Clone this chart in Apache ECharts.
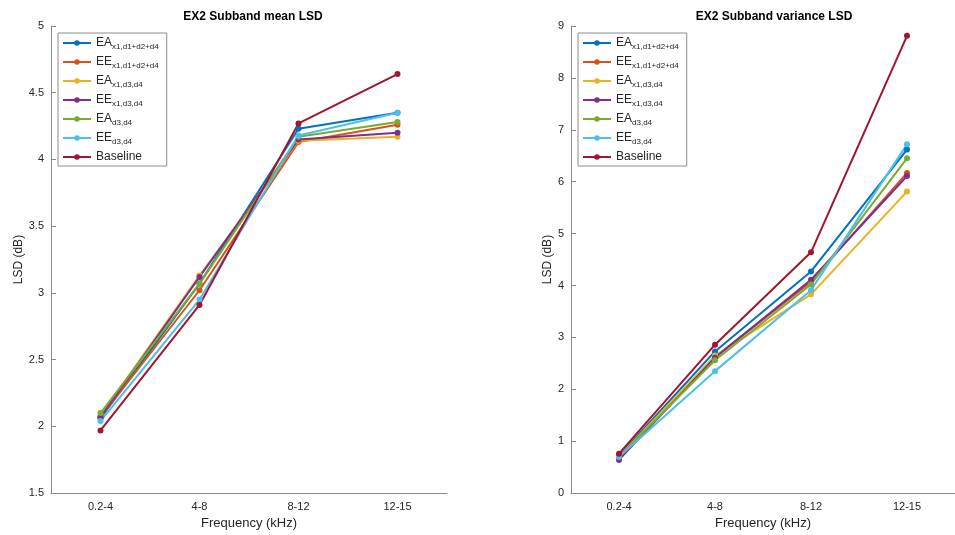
<!DOCTYPE html>
<html>
<head>
<meta charset="utf-8">
<script src="https://cdn.jsdelivr.net/npm/echarts@6/dist/echarts.min.js"></script>
<style>
  html, body { margin: 0; padding: 0; background: #fff; }
  #chart { width: 955px; height: 535px; }
</style>
</head>
<body>
<div id="chart"></div>
<script>
'use strict';

// categories and series data
var freqBands = ['0.2-4', '4-8', '8-12', '12-15'];

var seriesNames = ['EA|x1,d1+d2+d4', 'EE|x1,d1+d2+d4', 'EA|x1,d3,d4', 'EE|x1,d3,d4', 'EA|d3,d4', 'EE|d3,d4', 'Baseline'];
var seriesColors = ['#0072BD', '#D95319', '#EDB120', '#7E2F8E', '#77AC30', '#4DBEEE', '#A2142F'];

// subband mean LSD
var meanEA1 = [2.06, 3.07, 4.23, 4.35];
var meanEE1 = [2.07, 3.02, 4.13, 4.26];
var meanEA2 = [2.08, 3.13, 4.14, 4.17];
var meanEE2 = [2.07, 3.12, 4.15, 4.20];
var meanEA3 = [2.10, 3.07, 4.17, 4.28];
var meanEE3 = [2.04, 2.95, 4.18, 4.35];
var meanBase = [1.97, 2.91, 4.27, 4.64];

// subband variance LSD
var varEA1 = [0.72, 2.73, 4.27, 6.62];
var varEE1 = [0.70, 2.62, 4.07, 6.17];
var varEA2 = [0.70, 2.65, 3.83, 5.81];
var varEE2 = [0.64, 2.61, 4.11, 6.11];
var varEA3 = [0.70, 2.56, 4.02, 6.45];
var varEE3 = [0.70, 2.35, 3.91, 6.72];
var varBase = [0.76, 2.86, 4.64, 8.81];

var meanData = [meanEA1, meanEE1, meanEA2, meanEE2, meanEA3, meanEE3, meanBase];
var varData = [varEA1, varEE1, varEA2, varEE2, varEA3, varEE3, varBase];

(function (echarts) {

    var axisColor = '#8a8a8a',
        textColor = '#262626',
        fontFamily = 'Liberation Sans, Arial, sans-serif';

    // legend label with subscript part after '|'
    var legendFormatter = function (name) {
        var parts = name.split('|');
        if (parts.length < 2) return '{n|' + parts[0] + '}';
        return '{n|' + parts[0] + '}{s|' + parts[1] + '}';
    };

    var legendText = {
        color: textColor,
        fontFamily: fontFamily,
        rich: {
            n: {fontSize: 12, color: textColor, fontFamily: fontFamily},
            s: {fontSize: 8, color: textColor, fontFamily: fontFamily, padding: [8, 0, 0, 0]}
        }
    };

    var makeLegend = function (left) {
        return {
            left: left,
            top: 33,
            orient: 'vertical',
            itemGap: 5,
            itemWidth: 28,
            itemHeight: 7,
            padding: [4, 8, 3, 4],
            borderColor: '#8c8c8c',
            borderWidth: 1,
            backgroundColor: '#fff',
            data: seriesNames,
            formatter: legendFormatter,
            textStyle: legendText,
            selectedMode: false
        };
    };

    var xAxisOf = function (idx) {
        return {
            type: 'category',
            gridIndex: idx,
            data: freqBands,
            name: 'Frequency (kHz)',
            nameLocation: 'middle',
            nameGap: 23,
            nameTextStyle: {fontSize: 13, color: textColor, fontFamily: fontFamily},
            axisLine: {lineStyle: {color: axisColor}},
            axisTick: {inside: true, length: 5, alignWithLabel: true, lineStyle: {color: axisColor}},
            axisLabel: {fontSize: 11, color: textColor, fontFamily: fontFamily, margin: 8},
            splitLine: {show: false}
        };
    };

    var yAxisOf = function (idx, min, max, step, gap) {
        return {
            type: 'value',
            gridIndex: idx,
            min: min,
            max: max,
            interval: step,
            name: 'LSD (dB)',
            nameLocation: 'middle',
            nameGap: gap,
            nameTextStyle: {fontSize: 12, color: textColor, fontFamily: fontFamily},
            axisLine: {show: true, lineStyle: {color: axisColor}},
            axisTick: {show: true, inside: true, length: 5, lineStyle: {color: axisColor}},
            axisLabel: {fontSize: 11, color: textColor, fontFamily: fontFamily, margin: 7},
            splitLine: {show: false}
        };
    };

    var series = [];
    [meanData, varData].forEach(function (group, g) {
        group.forEach(function (values, i) {
            series.push({
                type: 'line',
                name: seriesNames[i],
                xAxisIndex: g,
                yAxisIndex: g,
                data: values,
                symbol: 'circle',
                symbolSize: 6,
                animation: false,
                color: seriesColors[i],
                lineStyle: {width: 2, color: seriesColors[i]},
                itemStyle: {color: seriesColors[i]}
            });
        });
    });

    var chart = echarts.init(document.getElementById('chart'));
    chart.setOption({
        backgroundColor: '#fff',
        title: [
            {text: 'EX2 Subband mean LSD', left: 248, top: 6, textAlign: 'center',
                textStyle: {fontSize: 12, fontWeight: 'bold', color: '#000', fontFamily: fontFamily}},
            {text: 'EX2 Subband variance LSD', left: 769, top: 6, textAlign: 'center',
                textStyle: {fontSize: 12, fontWeight: 'bold', color: '#000', fontFamily: fontFamily}}
        ],
        legend: [makeLegend(58), makeLegend(578)],
        grid: [
            {left: 51, right: 508, top: 26, bottom: 38},
            {left: 571, right: -12, top: 26, bottom: 38}
        ],
        xAxis: [xAxisOf(0), xAxisOf(1)],
        yAxis: [yAxisOf(0, 1.5, 5, 0.5, 26), yAxisOf(1, 0, 9, 1, 13)],
        series: series
    });

})(echarts);
</script>
</body>
</html>
